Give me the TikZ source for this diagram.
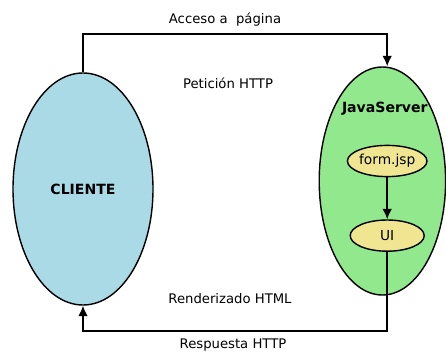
\documentclass[tikz,border=0pt]{standalone}
\usepackage{fontspec}
\setmainfont{DejaVu Sans}
\usetikzlibrary{shapes.geometric,positioning,arrows.meta}

\definecolor{clientblue}{RGB}{170,218,230}
\definecolor{servergreen}{RGB}{146,232,140}
\definecolor{pageyellow}{RGB}{240,230,145}

\tikzset{
  bigell/.style={ellipse, draw, line width=1pt, inner sep=0pt},
  smallell/.style={ellipse, draw, line width=1pt, fill=pageyellow, minimum width=1.85cm, minimum height=0.78cm, inner sep=0pt, font=\fontsize{9.8}{11}\selectfont},
  lbl/.style={font=\fontsize{9.4}{11}\selectfont},
  conn/.style={line width=1.2pt, -{Latex[length=2.6mm,width=2.4mm]}}
}

\begin{document}
\begin{tikzpicture}
  \useasboundingbox (0,0) rectangle (11.15,8.825);
  \node (client)[bigell, fill=clientblue, minimum width=3.5cm, minimum height=5.8cm, font=\bfseries\fontsize{10}{12}\selectfont] at (2.075,4.1) {CLIENTE};
  \node (server)[bigell, fill=servergreen, minimum width=3.16cm, minimum height=5.7cm] at (9.56,4.3) {};
  \node (java)[font=\bfseries\fontsize{10}{12}\selectfont] at (9.62,6.12) {JavaServer};
  \node (form)[smallell] at (9.68,4.8) {form.jsp};
  \node (ui)[smallell, below=1.05cm of form] {UI};
      \draw[conn] (form) -- (ui);
  % peticion y respuesta
  \coordinate (top) at (2.075,7.975);
  \coordinate (bot) at (9.68,0.55);
  \draw[conn] (client.north) |- (top) -| (form.center |- server.north);
  \draw[conn] (ui.south) |- (bot) -| (client.south);
  \node (acceso)[lbl] at (5.625,8.33) {Acceso a\ \ página};
  \node (peticion)[lbl] at (5.7,6.75) {Petición HTTP};
  \node (render)[lbl] at (5.75,1.35) {Renderizado HTML};
  \node (resp)[lbl, inner sep=1pt] at (5.825,0.2) {Respuesta HTTP};
\end{tikzpicture}
\end{document}
